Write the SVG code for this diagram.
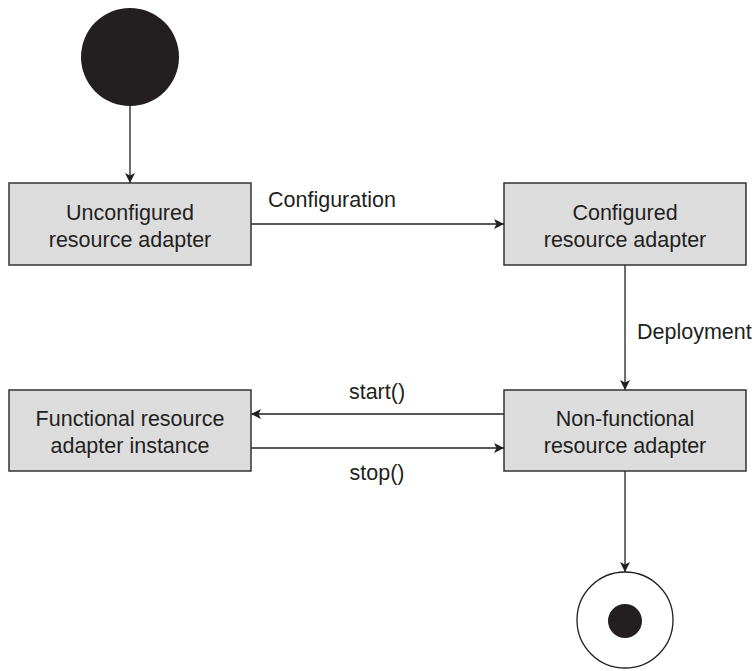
<svg xmlns="http://www.w3.org/2000/svg" width="756" height="671" viewBox="0 0 756 671">
<defs>
<style>
.box{fill:#dcdcdd;stroke:#333;stroke-width:1.5}
.t{font-family:"Liberation Sans",Arial,sans-serif;font-size:21.5px;fill:#231f20}
.c{text-anchor:middle}
.ln{stroke:#231f20;stroke-width:1.3;fill:none}
</style>
<marker id="ah" viewBox="0 0 10 10" refX="10" refY="5" markerWidth="10" markerHeight="10" markerUnits="userSpaceOnUse" orient="auto">
<path d="M0,0 L10,5 L0,10 L2.5,5 Z" fill="#231f20"/>
</marker>
</defs>
<g id="connectors">
<line class="ln" x1="130" y1="106" x2="130" y2="183" marker-end="url(#ah)"/>
<line class="ln" x1="251" y1="224" x2="504" y2="224" marker-end="url(#ah)"/>
<text class="t" x="268" y="207">Configuration</text>
<line class="ln" x1="625" y1="265" x2="625" y2="390" marker-end="url(#ah)"/>
<text class="t" x="637" y="339">Deployment</text>
<line class="ln" x1="504" y1="414" x2="251" y2="414" marker-end="url(#ah)"/>
<text class="t c" x="377" y="399">start()</text>
<line class="ln" x1="251" y1="448" x2="504" y2="448" marker-end="url(#ah)"/>
<text class="t c" x="377" y="480">stop()</text>
<line class="ln" x1="625" y1="471" x2="625" y2="572" marker-end="url(#ah)"/>
</g>
<g id="start">
<circle cx="130" cy="57" r="49" fill="#231f20"/>
</g>
<g id="unconfigured">
<rect class="box" x="9" y="183" width="242" height="82"/>
<text class="t c" x="130" y="219.5">Unconfigured</text>
<text class="t c" x="130" y="246.5">resource adapter</text>
</g>
<g id="configured">
<rect class="box" x="504" y="183" width="242" height="82"/>
<text class="t c" x="625" y="219.5">Configured</text>
<text class="t c" x="625" y="246.5">resource adapter</text>
</g>
<g id="functional">
<rect class="box" x="9" y="390" width="242" height="81"/>
<text class="t c" x="130" y="426">Functional resource</text>
<text class="t c" x="130" y="453">adapter instance</text>
</g>
<g id="nonfunctional">
<rect class="box" x="504" y="390" width="242" height="81"/>
<text class="t c" x="625" y="426">Non-functional</text>
<text class="t c" x="625" y="453">resource adapter</text>
</g>
<g id="end">
<circle cx="625" cy="620" r="48" fill="#fff" stroke="#231f20" stroke-width="1.3"/>
<circle cx="625" cy="621" r="17" fill="#231f20"/>
</g>
</svg>
